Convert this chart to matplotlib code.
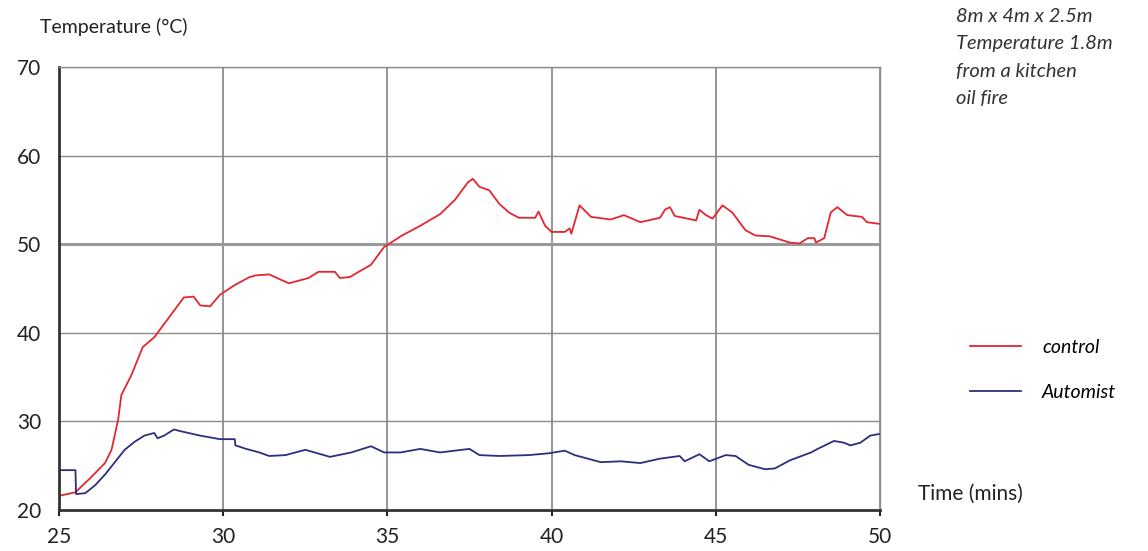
import numpy as np
import matplotlib.pyplot as plt

plt.rcParams['font.family'] = ['Lato', 'DejaVu Sans']

# =========================================
# dados
# =========================================
t_control = [25.0, 25.5, 25.95, 26.4, 26.6, 26.8, 26.9, 27.2, 27.55, 27.9, 28.4, 28.8,
             29.1, 29.3, 29.6, 29.9, 30.35, 30.8, 31.0, 31.4, 32.0, 32.6, 32.9, 33.4,
             33.55, 33.85, 34.5, 34.9, 35.4, 36.0, 36.6, 37.05, 37.45, 37.6, 37.8, 38.1,
             38.4, 38.7, 39.0, 39.5, 39.6, 39.8, 40.0, 40.4, 40.55, 40.6, 40.85, 41.2,
             41.8, 42.2, 42.7, 43.3, 43.45, 43.6, 43.75, 44.4, 44.5, 44.7, 44.9, 45.2,
             45.5, 45.9, 46.2, 46.65, 47.25, 47.55, 47.8, 48.0, 48.05, 48.3, 48.5, 48.7,
             49.0, 49.45, 49.6, 50.0]
control = [21.6, 22.0, 23.6, 25.3, 26.8, 30.2, 33.0, 35.2, 38.4, 39.5, 42.0, 44.0,
           44.1, 43.1, 43.0, 44.3, 45.4, 46.3, 46.5, 46.6, 45.6, 46.2, 46.9, 46.9,
           46.2, 46.3, 47.7, 49.7, 50.9, 52.1, 53.4, 55.0, 57.0, 57.4, 56.5, 56.1,
           54.6, 53.6, 53.0, 53.0, 53.7, 52.1, 51.4, 51.4, 51.8, 51.2, 54.4, 53.1,
           52.8, 53.3, 52.5, 53.0, 53.9, 54.2, 53.2, 52.7, 53.9, 53.3, 52.9, 54.4,
           53.6, 51.6, 51.0, 50.9, 50.2, 50.1, 50.7, 50.7, 50.2, 50.7, 53.6, 54.2,
           53.3, 53.1, 52.5, 52.3]

t_automist = [25.0, 25.5, 25.52, 25.8, 26.1, 26.4, 26.7, 27.0, 27.3, 27.6, 27.9, 28.0,
              28.2, 28.5, 28.7, 29.3, 29.9, 30.35, 30.37, 30.7, 31.1, 31.4, 31.9, 32.5,
              33.25, 33.9, 34.5, 34.9, 35.4, 36.0, 36.6, 37.5, 37.8, 38.4, 39.3, 39.9,
              40.4, 40.7, 41.5, 42.1, 42.7, 43.3, 43.9, 44.05, 44.5, 44.8, 45.3, 45.6,
              46.0, 46.5, 46.8, 47.25, 47.9, 48.1, 48.6, 48.9, 49.1, 49.4, 49.7, 50.0]
automist = [24.5, 24.5, 21.8, 21.9, 22.8, 24.0, 25.4, 26.8, 27.7, 28.4, 28.7, 28.1,
            28.4, 29.1, 28.9, 28.4, 28.0, 28.0, 27.3, 26.9, 26.5, 26.1, 26.2, 26.8,
            26.0, 26.5, 27.2, 26.5, 26.5, 26.9, 26.5, 26.9, 26.2, 26.1, 26.2, 26.4,
            26.7, 26.2, 25.4, 25.5, 25.3, 25.8, 26.1, 25.5, 26.3, 25.5, 26.2, 26.1,
            25.1, 24.6, 24.7, 25.6, 26.5, 26.9, 27.8, 27.6, 27.3, 27.6, 28.4, 28.6]

x_ticks = [25, 30, 35, 40, 45, 50]
y_ticks = [20, 30, 40, 50, 60, 70]

# =========================================
# gráfico
# =========================================
fig = plt.figure(figsize=(11.48, 5.51), dpi=100)
ax = fig.add_axes([0.0514, 0.0744, 0.7152, 0.8036])

ax.plot(t_control, control, color='#e32630', lw=1.3, label='control')
ax.plot(t_automist, automist, color='#2e2e7e', lw=1.3, label='Automist')

ax.set_xlim(25, 50)
ax.set_ylim(20, 70)
ax.set_xticks(x_ticks)
ax.set_yticks(y_ticks)

for x in x_ticks[1:]:
    ax.axvline(x, color='#8c8c8c', lw=1.3, zorder=0)
for y in y_ticks[1:]:
    ax.axhline(y, color='#9a9a9a' if y == 50 else '#8c8c8c',
               lw=2.2 if y == 50 else 1.0, zorder=0)

for s in ['top', 'right']:
    ax.spines[s].set_color('#8c8c8c')
    ax.spines[s].set_linewidth(1.0)
for s in ['left', 'bottom']:
    ax.spines[s].set_color('#333333')
    ax.spines[s].set_linewidth(2.0)

ax.tick_params(axis='both', labelsize=15, colors='#222222')
ax.tick_params(axis='y', length=0, pad=13)
ax.tick_params(axis='x', length=4, width=1.5, pad=8)

fig.text(40 / 1148, 1 - 27 / 551, 'Temperature (°C)', fontsize=14,
         va='center', ha='left', color='#222222')
fig.text(918 / 1148, 1 - 494 / 551, 'Time (mins)', fontsize=15,
         va='center', ha='left', color='#222222')
fig.text(956 / 1148, 1 - 8 / 551,
         '8m x 4m x 2.5m\nTemperature 1.8m\nfrom a kitchen\noil fire',
         fontsize=14.5, style='italic', va='top', ha='left', color='#333333',
         linespacing=1.75)

fig.legend(loc='center left', bbox_to_anchor=(970 / 1148, 1 - 370 / 551),
           frameon=False, prop={'style': 'italic', 'size': 14},
           handlelength=2.6, handletextpad=1.1, labelspacing=1.45,
           borderpad=0, borderaxespad=0)

plt.savefig('out.png', dpi=100)
